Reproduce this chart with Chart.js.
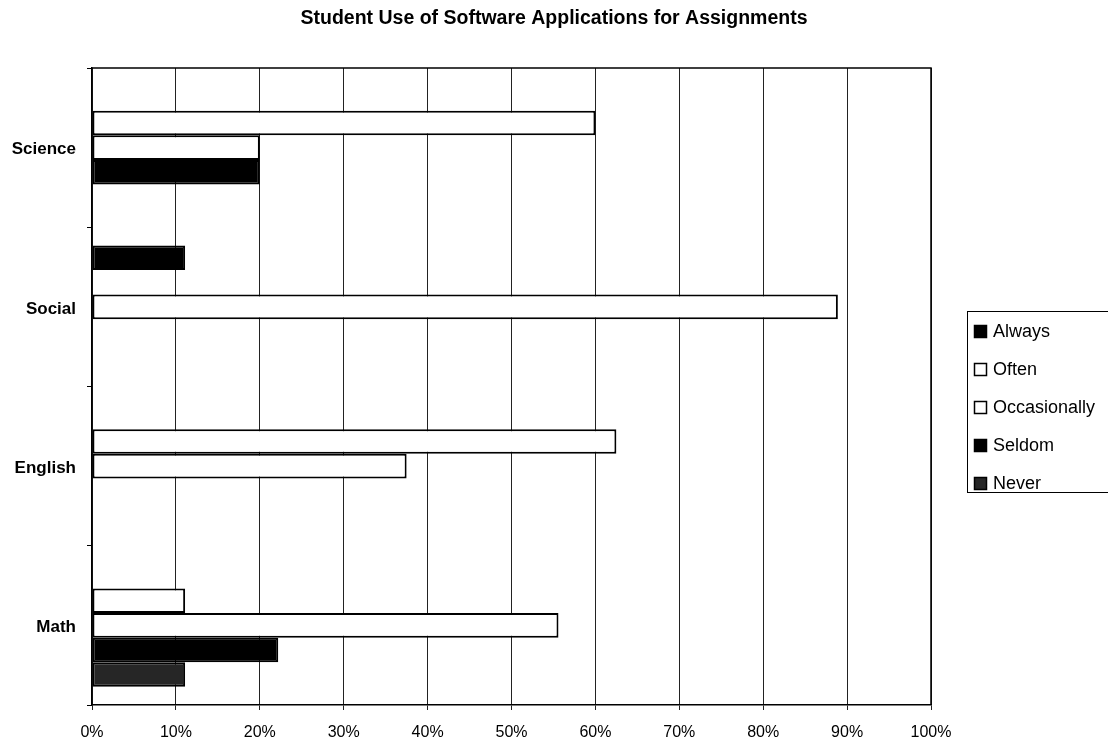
<!DOCTYPE html>
<html>
<head>
<meta charset="utf-8">
<title>Student Use of Software Applications for Assignments</title>
<script src="https://cdn.jsdelivr.net/npm/chart.js@4.4.1/dist/chart.umd.min.js"></script>
<style>
  html, body { margin: 0; padding: 0; background: #fff; }
  #wrap { width: 1108px; height: 744px; }
</style>
</head>
<body>
<div id="wrap"><canvas id="chart" width="1108" height="744"></canvas></div>
<script>
// subjects top to bottom, values in percent of students
const subjects = ['Science', 'Social', 'English', 'Math'];
const always = [0, 11.1, 0, 0];
const often = [60, 0, 62.5, 11.1];
const occasionally = [20, 88.9, 37.5, 55.6];
const seldom = [20, 0, 0, 22.2];
const never = [0, 0, 0, 11.1];
const seriesNames = ['Always', 'Often', 'Occasionally', 'Seldom', 'Never'];
const seriesFill = ['#000000', '#ffffff', '#ffffff', '#000000', '#262626'];

const fontFamily = '"Liberation Sans", Arial, Helvetica, sans-serif';

// legend in a box on the right, own layout box so the title stays centred on the whole chart
function drawBoxLegend(chart) {
    const ctx = chart.ctx;
    const left = 967;
    const top = 311;
    ctx.save();
    ctx.strokeStyle = '#000';
    ctx.lineWidth = 1;
    ctx.strokeRect(left + 0.5, top + 0.5, 160, 181);
    ctx.font = '18px ' + fontFamily;
    ctx.textBaseline = 'middle';
    ctx.textAlign = 'left';
    chart.data.datasets.forEach((ds, i) => {
        let y = top + 20 + i * 38;
        ctx.fillStyle = ds.backgroundColor;
        ctx.fillRect(left + 7, y - 6, 13, 13);
        ctx.lineWidth = 1.5;
        ctx.strokeRect(left + 7.5, y - 5.5, 12, 12);
        ctx.fillStyle = '#000';
        ctx.fillText(ds.label, left + 26, y + 1);
    });
    ctx.restore();
}

const boxLegend = {
    id: 'boxLegend',
    beforeInit(chart) {
        const box = {
            position: 'right',
            weight: 0,
            fullSize: false,
            options: {},
            left: 0, top: 0, right: 0, bottom: 0, width: 0, height: 0,
            isHorizontal() { return false; },
            update(maxWidth, maxHeight) {
                this.width = 177;
                this.height = maxHeight;
            },
            draw() { drawBoxLegend(chart); }
        };
        Chart.layouts.addBox(chart, box);
    }
};

// top and right border of the plot area
const plotBorder = {
    id: 'plotBorder',
    afterDatasetsDraw(chart) {
        const a = chart.chartArea;
        const ctx = chart.ctx;
        ctx.save();
        ctx.strokeStyle = '#000';
        ctx.lineWidth = 1.5;
        ctx.beginPath();
        ctx.moveTo(a.left, a.top);
        ctx.lineTo(a.right, a.top);
        ctx.lineTo(a.right, a.bottom);
        ctx.stroke();
        ctx.restore();
    }
};

const values = [always, often, occasionally, seldom, never];
const datasets = seriesNames.map((name, i) => ({
    label: name,
    data: values[i],
    backgroundColor: seriesFill[i],
    borderColor: '#000',
    borderWidth: 2,
    borderSkipped: false,
    categoryPercentage: 0.77,
    barPercentage: 1.0
}));

new Chart(document.getElementById('chart'), {
    type: 'bar',
    data: { labels: subjects, datasets: datasets },
    options: {
        indexAxis: 'y',
        responsive: false,
        animation: false,
        devicePixelRatio: 1,
        layout: { padding: 0 },
        plugins: {
            legend: { display: false },
            tooltip: { enabled: false },
            title: {
                display: true,
                text: 'Student Use of Software Applications for Assignments',
                color: '#000',
                font: { family: fontFamily, size: 19.5, weight: 'bold' },
                padding: { top: 7, bottom: 37.6 }
            }
        },
        scales: {
            x: {
                min: 0,
                max: 100,
                ticks: {
                    stepSize: 10,
                    color: '#000',
                    padding: 13,
                    font: { family: fontFamily, size: 16 },
                    callback: v => v + '%'
                },
                grid: { color: '#222', lineWidth: 1, tickLength: 5 },
                border: { color: '#000', width: 1.5 },
                afterFit: s => { s.height = 39; }
            },
            y: {
                ticks: {
                    color: '#000',
                    padding: 11,
                    labelOffset: 2,
                    font: { family: fontFamily, size: 17, weight: 'bold' }
                },
                grid: { drawOnChartArea: false, offset: true, color: '#000', tickLength: 5 },
                border: { color: '#000', width: 1.5 },
                afterFit: s => { s.width = 92; }
            }
        }
    },
    plugins: [boxLegend, plotBorder]
});
</script>
</body>
</html>
